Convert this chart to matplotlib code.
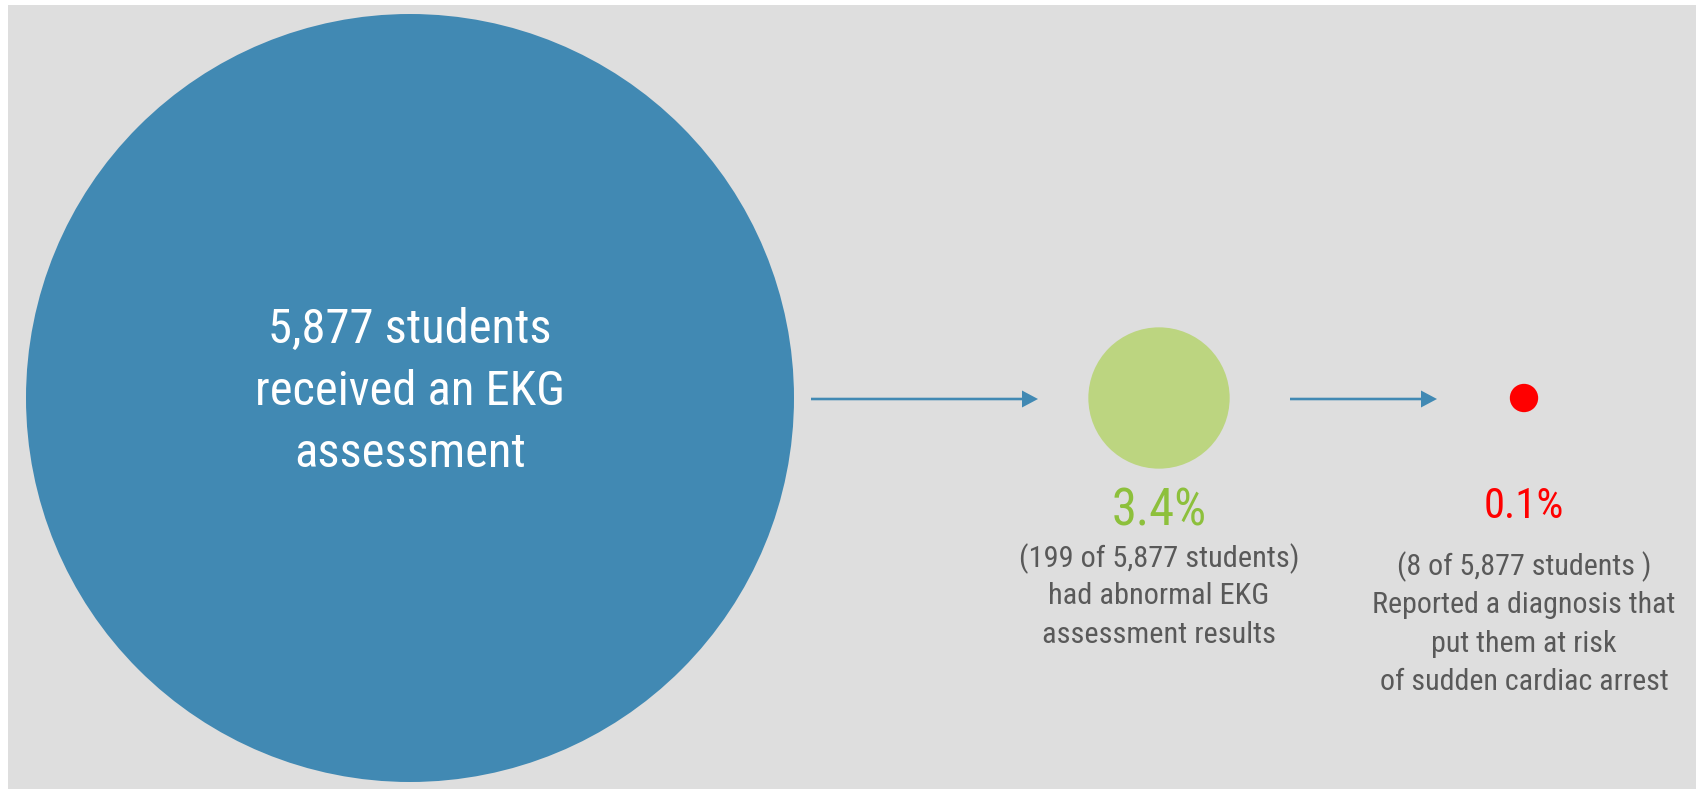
import matplotlib
matplotlib.use("Agg")
import matplotlib.pyplot as plt
from matplotlib.patches import Circle, Rectangle
from matplotlib import font_manager as fm
import numpy as np

# ---- data ----
stage_counts = [5877, 199, 8]
stage_pcts = ["", "3.4%", "0.1%"]
stage_main_text = ["5,877 students\nreceived an EKG\nassessment", "", ""]
stage_sub_text = [
    "",
    "(199 of 5,877 students)\nhad abnormal EKG\nassessment results",
    "(8 of 5,877 students )\nReported a diagnosis that\nput them at risk\nof sudden cardiac arrest",
]
stage_colors = ["#4189B3", "#BCD580", "#FF0000"]
pct_colors = ["#FFFFFF", "#8DC03C", "#FF0000"]

GRAY_TXT = "#595959"

# ---- pick a condensed sans font if one is installed ----
def pick_font():
    entries = fm.fontManager.ttflist
    names = {f.name for f in entries}
    for nm in ["Liberation Sans Narrow", "Roboto Condensed", "Open Sans Condensed",
               "Noto Sans Condensed", "Arial Narrow"]:
        if nm in names:
            return nm, "normal"
    for f in entries:
        st = f.stretch
        is_cond = (isinstance(st, str) and ("condensed" in st or "narrow" in st)) or \
                  (isinstance(st, (int, float)) and st < 500)
        if is_cond and f.name in ("DejaVu Sans", "Noto Sans", "Roboto", "Open Sans", "Lato", "Inter"):
            return f.name, st
    return "Roboto", "normal"

FONT_NAME, FONT_STRETCH = pick_font()

W, H = 1700, 789
fig = plt.figure(figsize=(W / 100, H / 100), dpi=100)
fig.patch.set_facecolor("white")
ax = fig.add_axes([0, 0, 1, 1])
ax.set_xlim(0, W)
ax.set_ylim(H, 0)
ax.set_aspect("equal")
ax.axis("off")

ax.add_patch(Rectangle((8, 5), 1688, 790, facecolor="#DEDEDE", edgecolor="none", zorder=0))

centers_x = [410, 1159, 1524]
cy = 398
big_r = 384
radii = [big_r * np.sqrt(c / stage_counts[0]) for c in stage_counts]

for x, r, col in zip(centers_x, radii, stage_colors):
    ax.add_patch(Circle((x, cy), r, facecolor=col, edgecolor="none", zorder=2))

# arrows
arrow_col = "#4189B3"
for x0, x1 in [(811, 1038), (1290, 1437)]:
    ax.arrow(x0, 399, x1 - x0, 0, width=2.6, head_width=17, head_length=16,
             length_includes_head=True, color=arrow_col, zorder=3, lw=0)

renderer = fig.canvas.get_renderer()


def text_block(x, lines, baselines, color, target_width, fs0=30):
    arts = []
    for line, yb in zip(lines, baselines):
        t = ax.text(x, yb, line, ha="center", va="baseline", color=color,
                    fontsize=fs0, family=FONT_NAME, fontstretch=FONT_STRETCH,
                    zorder=4)
        arts.append(t)
    widest = max(t.get_window_extent(renderer=renderer).width for t in arts)
    fs = fs0 * target_width / widest
    for t in arts:
        t.set_fontsize(fs)
    return arts


# big circle text
text_block(centers_x[0], stage_main_text[0].split("\n"), [343, 405, 467], "white", 310)

# percentage labels
text_block(centers_x[1], [stage_pcts[1]], [525], pct_colors[1], 95)
text_block(centers_x[2], [stage_pcts[2]], [518], pct_colors[2], 80)

# sub texts
text_block(centers_x[1], stage_sub_text[1].split("\n"), [567, 604, 643], GRAY_TXT, 280)
text_block(centers_x[2], stage_sub_text[2].split("\n"), [575, 613, 652, 690], GRAY_TXT, 303)

fig.savefig("out.png", dpi=100, facecolor=fig.get_facecolor())
